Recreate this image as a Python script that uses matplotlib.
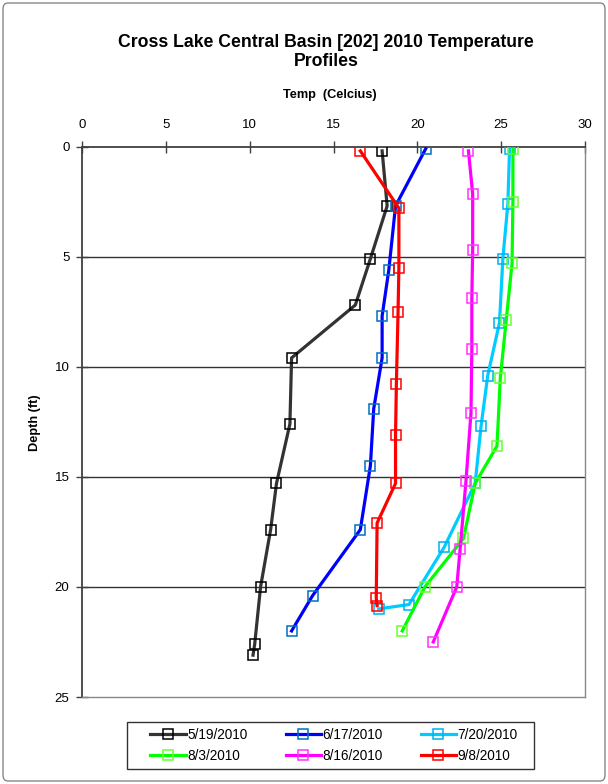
import matplotlib
matplotlib.use("Agg")
import matplotlib.pyplot as plt
from matplotlib.patches import FancyBboxPatch, Rectangle

plt.rcParams['font.family'] = ['Liberation Sans', 'DejaVu Sans']

labels = ["5/19/2010", "6/17/2010", "7/20/2010", "8/3/2010", "8/16/2010", "9/8/2010"]

t_0519 = [17.9, 18.2, 17.2, 16.3, 12.5, 12.4, 11.6, 11.25, 10.65, 10.3, 10.2]
d_0519 = [0.2, 2.7, 5.1, 7.2, 9.6, 12.6, 15.3, 17.4, 20.0, 22.6, 23.1]

t_0617 = [20.5, 18.7, 18.3, 17.9, 17.9, 17.4, 17.2, 16.6, 13.75, 12.5]
d_0617 = [0.1, 2.7, 5.6, 7.7, 9.6, 11.9, 14.5, 17.4, 20.4, 22.0]

t_0720 = [25.5, 25.4, 25.1, 24.9, 24.2, 23.8, 23.45, 21.6, 19.5, 17.7]
d_0720 = [0.1, 2.6, 5.1, 8.0, 10.4, 12.7, 15.3, 18.2, 20.8, 21.0]

t_0803 = [25.7, 25.7, 25.65, 25.3, 24.95, 24.75, 23.45, 22.75, 20.45, 19.1]
d_0803 = [0.1, 2.5, 5.3, 7.9, 10.5, 13.6, 15.3, 17.8, 20.0, 22.0]

t_0816 = [23.05, 23.3, 23.3, 23.25, 23.25, 23.2, 22.9, 22.55, 22.35, 20.95]
d_0816 = [0.2, 2.15, 4.7, 6.9, 9.2, 12.1, 15.2, 18.3, 20.0, 22.5]

t_0908 = [16.6, 18.9, 18.9, 18.85, 18.75, 18.7, 18.7, 17.6, 17.55, 17.6]
d_0908 = [0.2, 2.8, 5.5, 7.5, 10.8, 13.1, 15.3, 17.1, 20.5, 20.85]

temps = [t_0519, t_0617, t_0720, t_0803, t_0816, t_0908]
depths = [d_0519, d_0617, d_0720, d_0803, d_0816, d_0908]
line_colors = ["#333333", "#0000FF", "#00CCFF", "#00FF00", "#FF00FF", "#FF0000"]
marker_edges = ["#000000", "#0070C0", "#00B0F0", "#66FF33", "#FF33FF", "#FF0000"]

x_ticks = [0, 5, 10, 15, 20, 25, 30]
y_ticks = [0, 5, 10, 15, 20, 25]

W, H = 608, 784
fig = plt.figure(figsize=(W / 100, H / 100), dpi=100)

border = FancyBboxPatch((3 / W, 3 / H), (W - 6) / W, (H - 6) / H,
                        boxstyle="round,pad=0,rounding_size=0.008",
                        transform=fig.transFigure, fill=False,
                        edgecolor="#888888", linewidth=1.0)
fig.patches.append(border)

ax = fig.add_axes([82 / W, (H - 697) / H, 503 / W, (697 - 146.5) / H])

handles = []
for t, d, lc, mc, lab in zip(temps, depths, line_colors, marker_edges, labels):
    h, = ax.plot(t, d, color=lc, linewidth=2.3, marker='s', markersize=6.5,
                 markerfacecolor='none', markeredgecolor=mc, markeredgewidth=1.1,
                 label=lab, zorder=3)
    handles.append(h)

ax.set_xlim(0, 30)
ax.set_ylim(25, 0)
ax.set_xticks(x_ticks)
ax.set_yticks(y_ticks)
ax.xaxis.tick_top()
ax.xaxis.set_label_position('top')
ax.tick_params(axis='both', labelsize=9.5, width=1, color="#404040",
               direction='inout', length=8, pad=5)
ax.tick_params(axis='x', pad=7)
for yv in y_ticks[1:-1]:
    ax.axhline(yv, color="#333333", linewidth=1.0, zorder=1)
for side in ['top', 'left']:
    ax.spines[side].set_color("#404040")
    ax.spines[side].set_linewidth(1.3)
for side in ['bottom', 'right']:
    ax.spines[side].set_color("#888888")
    ax.spines[side].set_linewidth(1.0)

fig.text(326 / W, 1 - 52 / H, "Cross Lake Central Basin [202] 2010 Temperature\nProfiles",
         ha='center', va='center', fontsize=12.7, fontweight='bold', linespacing=1.1)
fig.text(330 / W, 1 - 95 / H, "Temp  (Celcius)", ha='center', va='center',
         fontsize=9.2, fontweight='bold')
fig.text(35 / W, 1 - 423 / H, "Depth (ft)", ha='center', va='center',
         fontsize=9.2, fontweight='bold', rotation=90)

# legend frame
fig.patches.append(Rectangle((127 / W, 1 - 769 / H), (534 - 127) / W, (769 - 722) / H,
                             transform=fig.transFigure, fill=False,
                             edgecolor="#333333", linewidth=1.0))

# row-major order for a 3-column legend
order = [0, 3, 1, 4, 2, 5]
leg = fig.legend([handles[i] for i in order], [labels[i] for i in order],
                 loc='center', bbox_to_anchor=(334 / W, 1 - 745.5 / H), ncol=3,
                 fontsize=9.8, frameon=False,
                 handlelength=2.6, columnspacing=2.8, borderpad=0.45,
                 labelspacing=0.55, handletextpad=0.1)

fig.savefig("out.png", dpi=100)
